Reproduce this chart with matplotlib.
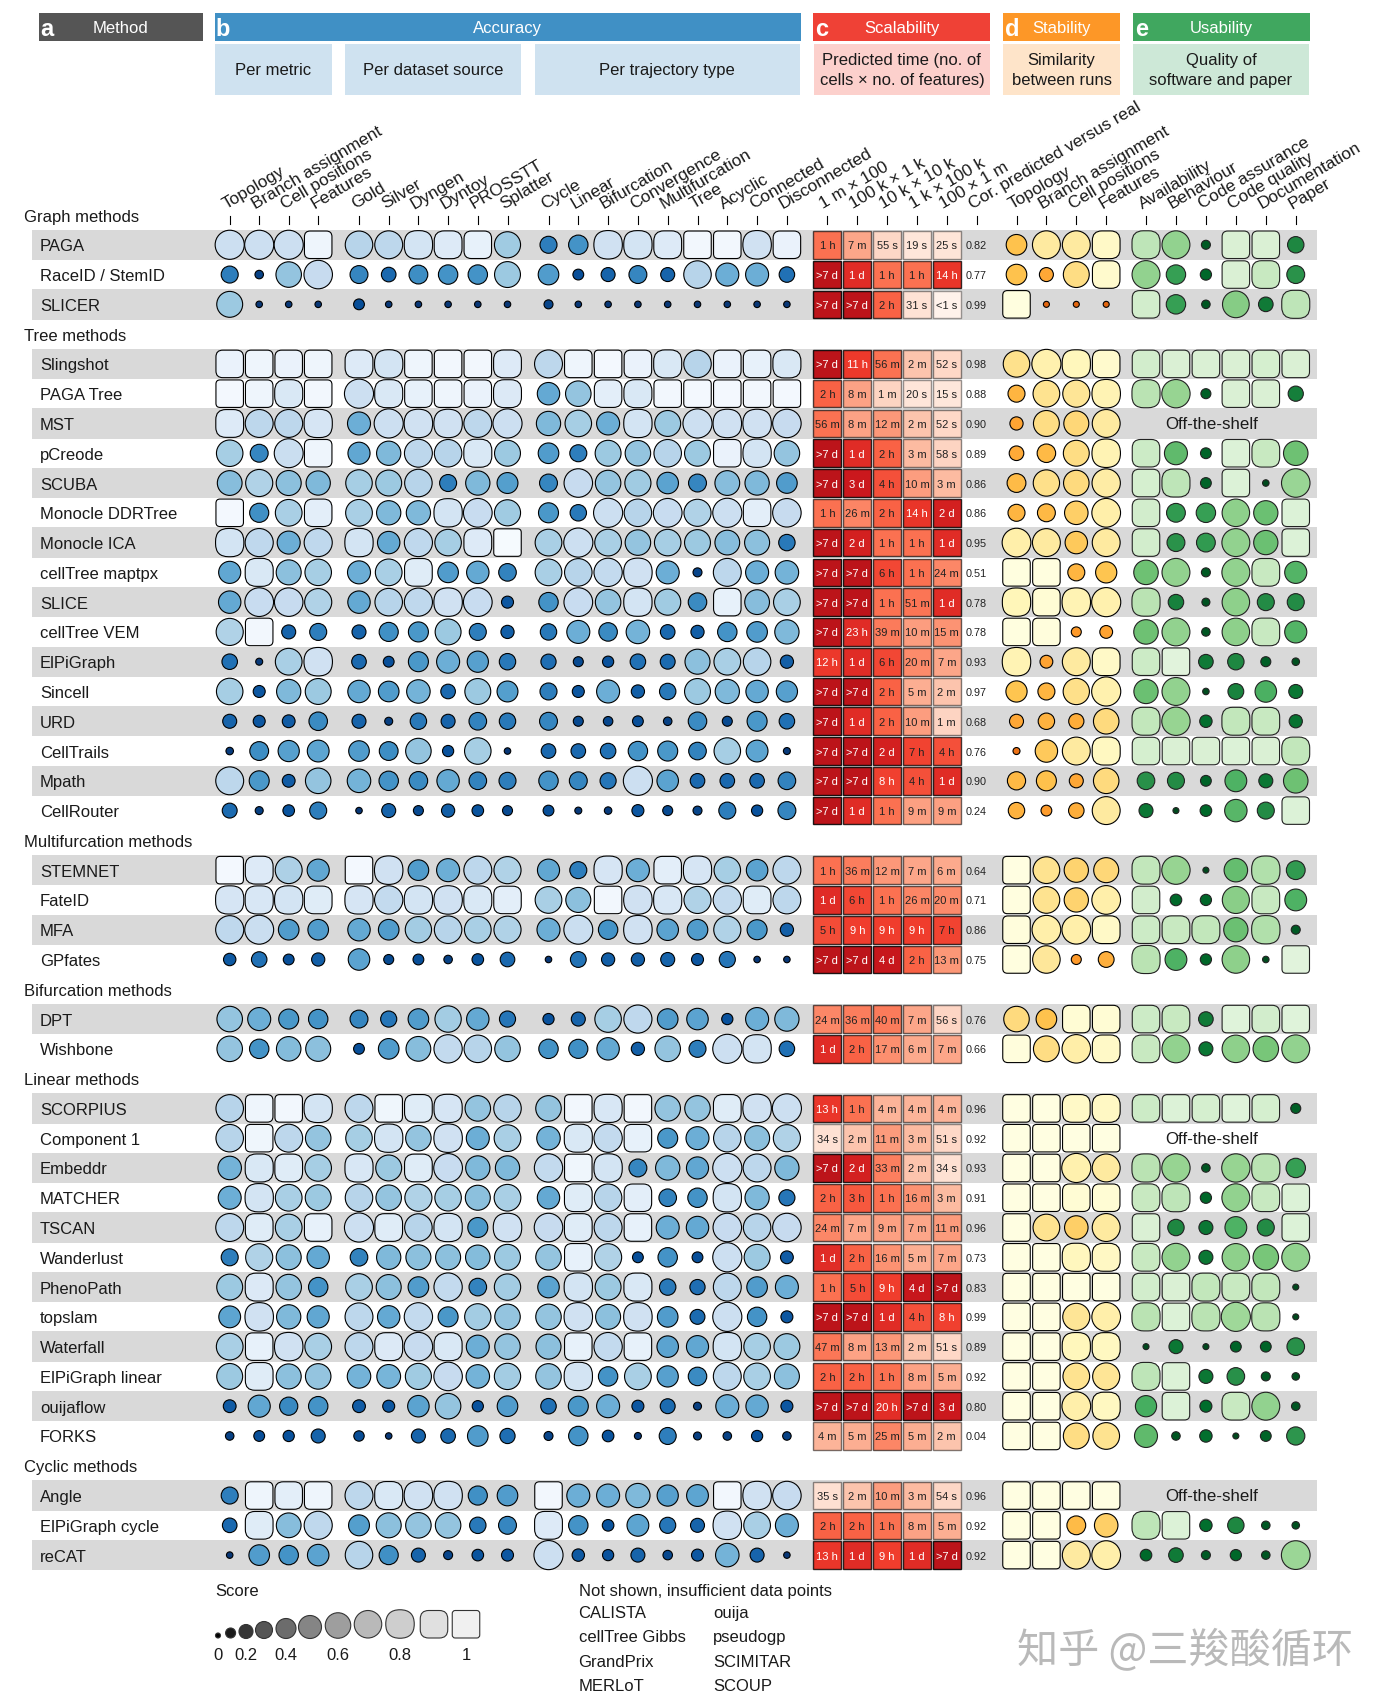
import matplotlib
matplotlib.use('Agg')
import matplotlib.pyplot as plt
import numpy as np
from matplotlib.patches import Circle, FancyBboxPatch, Rectangle

plt.rcParams['font.family'] = ['Liberation Sans', 'DejaVu Sans']

# Row layout: group name followed by how many methods it holds
group_names = ['Graph methods', 'Tree methods', 'Multifurcation methods',
               'Bifurcation methods', 'Linear methods', 'Cyclic methods']
group_sizes = [3, 16, 4, 2, 12, 3]

methods = ['PAGA', 'RaceID / StemID', 'SLICER',
           'Slingshot', 'PAGA Tree', 'MST', 'pCreode', 'SCUBA', 'Monocle DDRTree', 'Monocle ICA',
           'cellTree maptpx', 'SLICE', 'cellTree VEM', 'ElPiGraph', 'Sincell', 'URD', 'CellTrails',
           'Mpath', 'CellRouter',
           'STEMNET', 'FateID', 'MFA', 'GPfates',
           'DPT', 'Wishbone',
           'SCORPIUS', 'Component 1', 'Embeddr', 'MATCHER', 'TSCAN', 'Wanderlust', 'PhenoPath',
           'topslam', 'Waterfall', 'ElPiGraph linear', 'ouijaflow', 'FORKS',
           'Angle', 'ElPiGraph cycle', 'reCAT']

metric_cols = ['Topology', 'Branch assignment', 'Cell positions', 'Features']
source_cols = ['Gold', 'Silver', 'Dyngen', 'Dyntoy', 'PROSSTT', 'Splatter']
trajectory_cols = ['Cycle', 'Linear', 'Bifurcation', 'Convergence', 'Multifurcation', 'Tree',
                   'Acyclic', 'Connected', 'Disconnected']
time_cols = ['1 m × 100', '100 k × 1 k', '10 k × 10 k', '1 k × 100 k', '100 × 1 m']
cor_col = 'Cor. predicted versus real'
usability_cols = ['Availability', 'Behaviour', 'Code assurance', 'Code quality', 'Documentation', 'Paper']

accuracy_scores = [
    [.78, .78, .78, .95, .70, .72, .82, .87, .92, .63, .30, .38, .80, .82, .87, .97, .97, .80, .93],
    [.30, .07, .60, .75, .33, .22, .36, .38, .38, .62, .42, .12, .20, .33, .20, .70, .50, .50, .25],
    [.62, .03, .03, .03, .12, .03, .03, .03, .03, .03, .08, .03, .03, .03, .03, .03, .03, .03, .03],
    [.93, .95, .93, .95, .87, .82, .95, .97, .97, .87, .72, .95, .98, .93, .85, .70, .93, .92, .85],
    [.98, .95, .85, .97, .78, .85, .92, .95, .93, .86, .48, .60, .90, .85, .97, .98, .98, .97, .98],
    [.87, .72, .72, .83, .50, .78, .80, .80, .72, .78, .55, .65, .50, .82, .62, .78, .80, .80, .75],
    [.65, .33, .77, .95, .47, .55, .72, .70, .85, .62, .42, .30, .62, .60, .70, .62, .93, .82, .60],
    [.57, .68, .58, .55, .65, .62, .70, .30, .55, .43, .33, .75, .60, .63, .45, .33, .57, .55, .42],
    [.98, .37, .66, .90, .66, .55, .55, .82, .76, .63, .40, .28, .78, .70, .76, .68, .78, .90, .75],
    [.82, .73, .50, .73, .82, .48, .73, .65, .87, .99, .66, .78, .66, .60, .65, .62, .57, .58, .28],
    [.47, .85, .58, .65, .50, .66, .88, .42, .48, .32, .66, .70, .74, .80, .50, .08, .72, .50, .52],
    [.48, .76, .75, .68, .48, .70, .73, .80, .76, .15, .38, .76, .60, .82, .63, .35, .92, .57, .66],
    [.68, .97, .20, .30, .20, .37, .40, .62, .30, .18, .28, .50, .35, .52, .22, .18, .38, .42, .55],
    [.25, .04, .66, .80, .22, .12, .40, .50, .44, .28, .24, .10, .13, .25, .23, .58, .66, .70, .18],
    [.65, .15, .55, .62, .48, .42, .52, .22, .62, .43, .30, .15, .50, .18, .28, .62, .55, .48, .44],
    [.20, .15, .17, .35, .20, .06, .28, .20, .32, .28, .33, .10, .09, .12, .07, .35, .10, .40, .25],
    [.05, .36, .44, .46, .42, .36, .60, .13, .65, .03, .22, .22, .25, .38, .40, .32, .65, .46, .04],
    [.72, .40, .17, .60, .52, .38, .35, .48, .32, .30, .38, .33, .27, .78, .45, .22, .22, .22, .32],
    [.23, .06, .14, .30, .03, .20, .10, .18, .14, .10, .12, .04, .05, .15, .10, .08, .30, .13, .33],
    [.98, .87, .67, .47, .98, .80, .42, .50, .72, .68, .47, .30, .83, .50, .90, .83, .65, .45, .72],
    [.83, .84, .82, .88, .83, .74, .82, .80, .85, .90, .66, .58, .97, .80, .84, .68, .74, .88, .72],
    [.73, .77, .42, .42, .48, .42, .64, .70, .66, .68, .50, .77, .38, .80, .45, .42, .68, .40, .18],
    [.16, .25, .12, .18, .45, .10, .12, .07, .14, .22, .03, .26, .18, .18, .20, .15, .27, .03, .03],
    [.60, .50, .40, .38, .33, .27, .42, .64, .48, .27, .13, .20, .65, .73, .42, .45, .13, .50, .55],
    [.60, .38, .56, .58, .12, .42, .57, .74, .70, .60, .38, .37, .48, .18, .60, .30, .78, .82, .25],
    [.70, .95, .97, .82, .72, .96, .88, .83, .60, .70, .60, .97, .84, .97, .60, .60, .88, .80, .78],
    [.70, .96, .72, .60, .65, .82, .60, .80, .50, .66, .52, .85, .74, .92, .40, .50, .70, .58, .68],
    [.52, .85, .88, .65, .84, .62, .88, .76, .55, .55, .74, .96, .82, .33, .55, .47, .78, .72, .55],
    [.50, .82, .66, .62, .70, .60, .68, .65, .58, .66, .48, .88, .70, .90, .32, .38, .82, .55, .27],
    [.72, .88, .66, .92, .78, .88, .70, .82, .40, .80, .75, .88, .72, .92, .50, .48, .75, .70, .75],
    [.30, .68, .58, .48, .32, .55, .58, .58, .56, .62, .60, .92, .68, .12, .38, .12, .78, .62, .17],
    [.62, .86, .60, .38, .66, .58, .42, .74, .32, .64, .45, .82, .62, .85, .28, .24, .72, .42, .50],
    [.46, .80, .55, .47, .72, .48, .74, .40, .64, .60, .60, .80, .58, .80, .42, .23, .78, .38, .15],
    [.66, .92, .80, .66, .72, .86, .75, .85, .50, .60, .58, .92, .74, .92, .45, .47, .82, .65, .62],
    [.62, .88, .58, .60, .52, .53, .63, .75, .52, .64, .60, .82, .38, .66, .44, .35, .72, .66, .58],
    [.17, .47, .34, .38, .17, .15, .45, .60, .13, .42, .25, .40, .50, .15, .23, .06, .50, .48, .15],
    [.07, .12, .13, .20, .11, .03, .20, .22, .42, .24, .08, .38, .14, .04, .30, .06, .07, .13, .07],
    [.30, .95, .90, .95, .72, .85, .80, .80, .37, .42, .97, .50, .50, .55, .44, .46, .97, .80, .75],
    [.22, .88, .57, .73, .43, .58, .60, .60, .28, .33, .87, .38, .14, .46, .27, .20, .80, .66, .50],
    [.03, .42, .38, .45, .70, .37, .20, .08, .14, .15, .78, .16, .13, .20, .09, .15, .52, .20, .03],
]

time_labels = [
    ['1 h', '7 m', '55 s', '19 s', '25 s'], ['>7 d', '1 d', '1 h', '1 h', '14 h'],
    ['>7 d', '>7 d', '2 h', '31 s', '<1 s'], ['>7 d', '11 h', '56 m', '2 m', '52 s'],
    ['2 h', '8 m', '1 m', '20 s', '15 s'], ['56 m', '8 m', '12 m', '2 m', '52 s'],
    ['>7 d', '1 d', '2 h', '3 m', '58 s'], ['>7 d', '3 d', '4 h', '10 m', '3 m'],
    ['1 h', '26 m', '2 h', '14 h', '2 d'], ['>7 d', '2 d', '1 h', '1 h', '1 d'],
    ['>7 d', '>7 d', '6 h', '1 h', '24 m'], ['>7 d', '>7 d', '1 h', '51 m', '1 d'],
    ['>7 d', '23 h', '39 m', '10 m', '15 m'], ['12 h', '1 d', '6 h', '20 m', '7 m'],
    ['>7 d', '>7 d', '2 h', '5 m', '2 m'], ['>7 d', '1 d', '2 h', '10 m', '1 m'],
    ['>7 d', '>7 d', '2 d', '7 h', '4 h'], ['>7 d', '>7 d', '8 h', '4 h', '1 d'],
    ['>7 d', '1 d', '1 h', '9 m', '9 m'], ['1 h', '36 m', '12 m', '7 m', '6 m'],
    ['1 d', '6 h', '1 h', '26 m', '20 m'], ['5 h', '9 h', '9 h', '9 h', '7 h'],
    ['>7 d', '>7 d', '4 d', '2 h', '13 m'], ['24 m', '36 m', '40 m', '7 m', '56 s'],
    ['1 d', '2 h', '17 m', '6 m', '7 m'], ['13 h', '1 h', '4 m', '4 m', '4 m'],
    ['34 s', '2 m', '11 m', '3 m', '51 s'], ['>7 d', '2 d', '33 m', '2 m', '34 s'],
    ['2 h', '3 h', '1 h', '16 m', '3 m'], ['24 m', '7 m', '9 m', '7 m', '11 m'],
    ['1 d', '2 h', '16 m', '5 m', '7 m'], ['1 h', '5 h', '9 h', '4 d', '>7 d'],
    ['>7 d', '>7 d', '1 d', '4 h', '8 h'], ['47 m', '8 m', '13 m', '2 m', '51 s'],
    ['2 h', '2 h', '1 h', '8 m', '5 m'], ['>7 d', '>7 d', '20 h', '>7 d', '3 d'],
    ['4 m', '5 m', '25 m', '5 m', '2 m'], ['35 s', '2 m', '10 m', '3 m', '54 s'],
    ['2 h', '2 h', '1 h', '8 m', '5 m'], ['13 h', '1 d', '9 h', '1 d', '>7 d'],
]

cor_values = ['0.82', '0.77', '0.99', '0.98', '0.88', '0.90', '0.89', '0.86', '0.86', '0.95',
              '0.51', '0.78', '0.78', '0.93', '0.97', '0.68', '0.76', '0.90', '0.24',
              '0.64', '0.71', '0.86', '0.75', '0.76', '0.66',
              '0.96', '0.92', '0.93', '0.91', '0.96', '0.73', '0.83', '0.99', '0.89', '0.92',
              '0.80', '0.04', '0.96', '0.92', '0.92']

stability_scores = [
    [.42, .72, .72, .88], [.42, .20, .62, .90], [.97, .02, .02, .02], [.65, .78, .83, .90],
    [.30, .66, .68, .80], [.18, .62, .58, .72], [.22, .35, .62, .80], [.36, .64, .60, .74],
    [.30, .33, .52, .76], [.76, .72, .48, .72], [.97, .97, .30, .44], [.82, .93, .80, .78],
    [.97, .96, .10, .17], [.80, .17, .72, .88], [.44, .30, .64, .78], [.20, .28, .24, .60],
    [.04, .48, .72, .85], [.34, .40, .20, .60], [.28, .12, .25, .72], [.98, .66, .55, .58],
    [.97, .66, .55, .76], [.96, .76, .76, .88], [.97, .70, .10, .26], [.60, .42, .93, .93],
    [.96, .62, .75, .88], [.98, .98, .88, .86], [.98, .98, .98, .98], [.98, .98, .78, .72],
    [.98, .98, .93, .93], [.98, .66, .52, .72], [.98, .98, .84, .86], [.98, .98, .98, .98],
    [.98, .98, .68, .76], [.98, .98, .83, .85], [.98, .98, .66, .68], [.98, .98, .76, .85],
    [.98, .98, .62, .66], [.98, .98, .98, .98], [.98, .98, .36, .52], [.98, .98, .72, .76],
]

# None means the method is off-the-shelf and has no usability scores
usability_scores = [
    [.85, .72, .08, .95, .95, .28], [.72, .38, .13, .95, .88, .33], [.92, .38, .07, .66, .22, .85],
    [.92, .95, .95, .95, .93, .95], [.84, .74, .10, .95, .95, .24], None,
    [.90, .50, .12, .96, .88, .56], [.93, .85, .12, .96, .03, .75], [.92, .36, .38, .70, .55, .96],
    [.92, .33, .36, .72, .55, .96], [.56, .72, .08, .72, .88, .47], [.84, .25, .06, .70, .30, .30],
    [.56, .72, .07, .70, .88, .47], [.90, .98, .22, .28, .10, .05], [.55, .72, .03, .26, .45, .20],
    [.86, .74, .16, .86, .88, .18], [.93, .95, .95, .96, .95, .86], [.32, .30, .12, .46, .20, .56],
    [.20, .02, .14, .48, .30, .96], [.86, .74, .02, .52, .82, .36], [.92, .14, .13, .68, .88, .46],
    [.90, .88, .86, .55, .82, .08], [.84, .46, .13, .70, .03, .98], [.90, .88, .22, .97, .92, .97],
    [.88, .72, .20, .70, .60, .72], [.90, .96, .93, .97, .93, .10], None,
    [.84, .74, .07, .74, .84, .38], [.88, .85, .13, .72, .88, .96], [.95, .28, .20, .46, .30, .96],
    [.88, .72, .20, .70, .60, .72], [.92, .95, .86, .88, .86, .02], [.84, .96, .84, .78, .84, .02],
    [.02, .20, .02, .12, .12, .32], [.85, .96, .20, .32, .08, .05], [.44, .96, .15, .88, .72, .07],
    [.50, .07, .16, .02, .12, .34], None, [.85, .96, .16, .28, .07, .05], [.14, .22, .08, .13, .07, .76],
]

legend_scores = [0, .1, .2, .3, .4, .5, .6, .7, .8, .9, 1]
legend_ticks = ['0', '0.2', '0.4', '0.6', '0.8', '1']
not_shown_left = ['CALISTA', 'cellTree Gibbs', 'GrandPrix', 'MERLoT']
not_shown_right = ['ouija', 'pseudogp', 'SCIMITAR', 'SCOUP']

W, H = 1389, 1706
TEXT = '#1a1a1a'
ROW_Y0, ROW_STEP = 216.0, 29.78
CELL = 27.5


def draw_glyph(ax, x, y, score, color, edge='black'):
    """Circle that grows with the score and turns into a rounded square near 1"""
    if score < 0.8:
        d = np.interp(score, [0, .1, .2, .3, .4, .5, .6, .7, .8], [5, 10, 14, 17, 20, 23, 25.5, 27.5, 29.5])
        ax.add_patch(Circle((x, y), d / 2, fc=color, ec=edge, lw=0.8))
    else:
        w = np.interp(score, [.8, .9], [28.5, CELL])
        r = np.interp(score, [.8, 1], [w / 2, 3])
        ax.add_patch(FancyBboxPatch((x - w / 2, y - w / 2), w, w, boxstyle=f'round,pad=0,rounding_size={r}',
                                    fc=color, ec=edge, lw=0.8))


def blue(score):
    return plt.cm.Blues_r(score)


def yellow(score):
    return plt.cm.YlOrBr_r(np.interp(score, [0, .1, .3, .45, .65, .8, 1], [.3, .5, .58, .63, .74, .85, 1]))


def green(score):
    return plt.cm.Greens_r(np.interp(score, [0, .3, .5, .78, .85, 1], [0, .25, .45, .62, .72, .88]))


def label_seconds(label):
    """Turn a label such as '>7 d' into seconds"""
    value, unit = label.strip('><').split()
    sec = float(value) * {'s': 1, 'm': 60, 'h': 3600, 'd': 86400}[unit]
    return 0.5 if label.startswith('<') else sec


def column_positions():
    acc = [229.7 + 29.5 * i for i in range(4)]
    acc += [359 + 29.7 * i for i in range(6)]
    acc += [548.5 + 29.8 * i for i in range(9)]
    time = [827.4 + 29.85 * i for i in range(5)]
    stab = [1016.5 + 29.9 * i for i in range(4)]
    usab = [1146 + 29.95 * i for i in range(6)]
    return acc, time, 976.5, stab, usab


def draw_header(ax):
    heads = [('a', 'Method', 38.8, 203, 47, 120, '#555555'),
             ('b', 'Accuracy', 214.8, 801, 223, 507.7, '#4090c5'),
             ('c', 'Scalability', 813, 990, 821.5, 902, '#ef4136'),
             ('d', 'Stability', 1003, 1120, 1012, 1061.6, '#fd9727'),
             ('e', 'Usability', 1133, 1310, 1141.5, 1221.5, '#40a75f')]
    for letter, title, x0, x1, xl, xt, color in heads:
        ax.add_patch(Rectangle((x0, 14), x1 - x0, 27.7, fc=color, ec='none'))
        ax.text(xl, 29, letter, color='white', fontsize=17, fontweight='bold', ha='center', va='center')
        ax.text(xt, 28.5, title, color='white', fontsize=12, ha='center', va='center')

    subs = [('Per metric', 214.8, 332, '#cfe2f0'),
            ('Per dataset source', 345, 521.4, '#cfe2f0'),
            ('Per trajectory type', 534.7, 800, '#cfe2f0'),
            ('Predicted time (no. of\ncells × no. of features)', 813.8, 990, '#fcd0cc'),
            ('Similarity\nbetween runs', 1003, 1120, '#fee4c9'),
            ('Quality of\nsoftware and paper', 1133, 1309, '#cde8d7')]
    for title, x0, x1, color in subs:
        ax.add_patch(Rectangle((x0, 45), x1 - x0, 51, fc=color, ec='none'))
        ax.text((x0 + x1) / 2, 70.5, title, color=TEXT, fontsize=12, ha='center', va='center', linespacing=1.4)


def draw_column_labels(ax):
    acc, time, cor_x, stab, usab = column_positions()
    xs = acc + time + [cor_x] + stab + usab
    labels = metric_cols + source_cols + trajectory_cols + time_cols + [cor_col] + metric_cols + usability_cols
    for x, label in zip(xs, labels):
        ax.plot([x, x], [217, 225], color='black', lw=0.8)
        ax.text(x - 4, 209, label, rotation=30.5, rotation_mode='anchor', ha='left', va='baseline',
                fontsize=12.4, color=TEXT)


def draw_rows(ax):
    acc, time, cor_x, stab, usab = column_positions()
    row = 0
    m = 0
    for name, size in zip(group_names, group_sizes):
        ax.text(24.5, ROW_Y0 + ROW_STEP * row + 1, name, fontsize=12, color=TEXT, va='center')
        row += 1
        for k in range(size):
            y = ROW_Y0 + ROW_STEP * row
            if k % 2 == 0:
                ax.add_patch(Rectangle((32, y - 15.2), 1285, 30.4, fc='#d9d9d9', ec='none', zorder=0))
            ax.text(40, y + 1, methods[m], fontsize=12, color=TEXT, va='center')

            for x, score in zip(acc, accuracy_scores[m]):
                draw_glyph(ax, x, y, score, blue(score))

            for x, label in zip(time, time_labels[m]):
                sec = label_seconds(label)
                c = np.interp(np.log10(sec), [0, 1.4, 2.08, 3.56, 4.94, 5.78], [.02, .1, .22, .48, .68, .8])
                ax.add_patch(Rectangle((x - 14, y - 13.8), 28, 27.6, fc=plt.cm.Reds(c),
                                       ec=(0, 0, 0, 0.35 + 0.65 * c), lw=1.0))
                ax.text(x, y + 0.5, label, fontsize=8, ha='center', va='center',
                        color='white' if sec >= 8 * 3600 else '#222222')
            ax.text(cor_x, y + 0.5, cor_values[m], fontsize=7.8, ha='center', va='center', color='#222222')

            for x, score in zip(stab, stability_scores[m]):
                draw_glyph(ax, x, y, score, yellow(score))

            if usability_scores[m] is None:
                ax.text(1212, y, 'Off-the-shelf', fontsize=12.2, color=TEXT, ha='center', va='center')
            else:
                for x, score in zip(usab, usability_scores[m]):
                    draw_glyph(ax, x, y, score, green(score), edge='#222222')
            row += 1
            m += 1


def draw_legend(ax):
    ax.text(215, 1592, 'Score', fontsize=12, color=TEXT, va='center')
    xs = [218, 230.6, 246, 264, 286, 310, 338, 368, 400, 434, 466]
    for x, score in zip(xs, legend_scores):
        # glyphs stand on a common base line
        d = np.interp(score, [0, .1, .2, .3, .4, .5, .6, .7, .8], [5, 10, 13, 16, 19, 22, 25, 27.5, 28])
        d = 27.5 if score > .8 else d
        draw_glyph(ax, x, 1639 - d / 2, score, plt.cm.Greys_r(0.875 * score), edge='#333333')
    for x, label in zip(xs[::2], legend_ticks):
        ax.text(x, 1656, label, fontsize=12, color=TEXT, ha='center', va='center')

    ax.text(578.6, 1592, 'Not shown, insufficient data points', fontsize=12, color=TEXT, va='center')
    for y, left, right in zip([1614, 1638, 1663, 1687], not_shown_left, not_shown_right):
        ax.text(578.6, y, left, fontsize=12, color=TEXT, va='center')
        ax.text(713, y, right, fontsize=12, color=TEXT, va='center')

    ax.text(1017, 1651, '知乎 @三羧酸循环', fontsize=29.6, color='#b9b9b9', va='center',
            family=['Noto Sans CJK SC', 'DejaVu Sans'])


def main():
    fig = plt.figure(figsize=(W / 100, H / 100), dpi=100)
    ax = fig.add_axes([0, 0, 1, 1])
    ax.set_xlim(0, W)
    ax.set_ylim(H, 0)
    ax.axis('off')

    draw_header(ax)
    draw_column_labels(ax)
    draw_rows(ax)
    draw_legend(ax)

    fig.savefig('out.png', dpi=100)


if __name__ == "__main__":
    main()
